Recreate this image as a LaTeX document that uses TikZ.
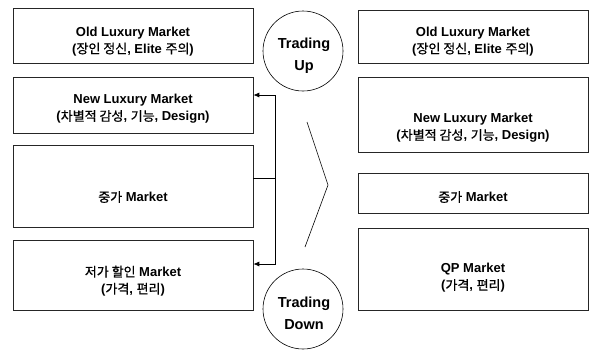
\documentclass[tikz,border=0pt]{standalone}
\usepackage{fontspec}
\setmainfont{Liberation Sans}
\newfontfamily\kr[UprightFeatures={FakeBold=0.8}]{Noto Sans CJK KR}
\newcommand{\K}[1]{{\kr\mdseries #1}}
\usetikzlibrary{arrows.meta}
\begin{document}
\begin{tikzpicture}[x=1pt,y=-1pt,
  box/.style={draw=black!85,line width=0.6pt,inner sep=0pt},
  lbl/.style={align=center,font=\fontsize{13}{17}\selectfont\bfseries,inner sep=0pt},
  circ/.style={draw=black,line width=0.6pt,circle,minimum size=80pt,inner sep=0pt},
  ctext/.style={align=center,inner sep=0pt,font=\fontsize{14.5}{22}\selectfont\bfseries},
  conn/.style={line width=0.8pt,draw=black},
  tip/.style={-{Latex[length=6pt,width=5pt]}}]
\useasboundingbox (0,0) rectangle (593,354);
% left boxes
\node[box,minimum width=240pt,minimum height=55pt] (l1) at (133,35.5) {};
\node[box,minimum width=240pt,minimum height=56pt] (l2) at (133,105) {};
\node[box,minimum width=240pt,minimum height=82pt] (l3) at (133,186) {};
\node[box,minimum width=240pt,minimum height=70pt] (l4) at (133,275) {};
\node[lbl] (t1) at (133,41.5) {Old Luxury Market\\(\K{장인 정신}, Elite \K{주의})};
\node[lbl] (t2) at (133,109) {New Luxury Market\\(\K{차별적 감성}, \K{기능}, Design)};
\node[lbl] (t3) at (133,197) {\K{중가} Market};
\node[lbl] (t4) at (133,281) {\K{저가 할인} Market\\(\K{가격}, \K{편리})};
% right boxes
\node[box,minimum width=230pt,minimum height=53pt] (r1) at (473,36.5) {};
\node[box,minimum width=230pt,minimum height=75pt] (r2) at (473,114.5) {};
\node[box,minimum width=230pt,minimum height=40pt] (r3) at (473,193) {};
\node[box,minimum width=230pt,minimum height=82pt] (r4) at (473,269) {};
\node[lbl] (s1) at (473,41.5) {Old Luxury Market\\(\K{장인 정신}, Elite \K{주의})};
\node[lbl] (s2) at (473,128) {New Luxury Market\\(\K{차별적 감성}, \K{기능}, Design)};
\node[lbl] (s3) at (473,197) {\K{중가} Market};
\node[lbl] (s4) at (473,278) {QP Market\\(\K{가격}, \K{편리})};
% circles
\node[circ] (up) at (303,51) {};
\node[circ] (down) at (303,309) {};
\node[ctext] (upt) at (304,56) {Trading\\Up};
\node[ctext] (downt) at (304,313) {Trading\\Down};
% connectors
\coordinate (j) at (275,178);
\coordinate (u) at (275,95);
\coordinate (d) at (275,264);
\draw[conn] (l3.east |- j) -- (j);
\draw[conn,tip] (j) -- (u) -- (l2.east |- u);
\draw[conn,tip] (j) -- (d) -- (l4.east |- d);
% chevron
\coordinate (c1) at (307,122);
\coordinate (c2) at (328,185);
\coordinate (c3) at (305,247);
\draw[line width=0.6pt] (c1) -- (c2) -- (c3);
\end{tikzpicture}
\end{document}
